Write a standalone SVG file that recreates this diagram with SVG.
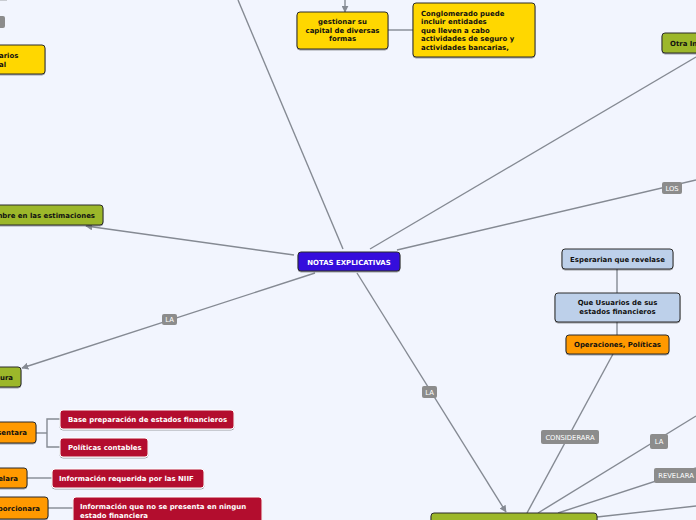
<svg xmlns="http://www.w3.org/2000/svg" width="696" height="520" viewBox="0 0 696 520">
<defs>
<marker id="arr" viewBox="0 0 10 10" refX="9" refY="5" markerWidth="7" markerHeight="7" orient="auto" markerUnits="userSpaceOnUse">
<path d="M0,0 L10,5 L0,10 z" fill="#858a93"/>
</marker>
<filter id="sh" x="-10%" y="-10%" width="120%" height="140%"><feDropShadow dx="0" dy="1" stdDeviation="0.6" flood-color="#000" flood-opacity="0.35"/></filter>
</defs>
<style>
.c{stroke:#858a93;stroke-width:1.4;fill:none}
.lbl rect{fill:#8c8c8c}
.lbl text{fill:#fff;font-family:"DejaVu Sans",Verdana,sans-serif;font-size:6.8px;text-anchor:middle}
.n{stroke:#2b2b2b;stroke-width:1;filter:url(#sh)}
.y{fill:#ffd700}
.g{fill:#9cb72c}
.o{fill:#ff9900}
.r{fill:#b3102e;stroke:#fff}
.b{fill:#bdd0ea}
.t{font-family:"DejaVu Sans",Verdana,sans-serif;font-weight:bold;font-size:6.95px;fill:#111}
.w{fill:#fff}
.m{text-anchor:middle}
.e{text-anchor:end}
</style>
<rect width="696" height="520" fill="#f2f5fe"/>

<g id="connectors">
<line class="c" x1="343" y1="249" x2="238" y2="0"/>
<line class="c" x1="345" y1="0" x2="345" y2="12" marker-end="url(#arr)"/>
<line class="c" x1="388" y1="30" x2="413" y2="30"/>
<line class="c" x1="370" y1="249" x2="696" y2="57"/>
<line class="c" x1="397" y1="250" x2="696" y2="180"/>
<line class="c" x1="294" y1="255" x2="86" y2="226" marker-end="url(#arr)"/>
<line class="c" x1="315" y1="273" x2="22" y2="368" marker-end="url(#arr)"/>
<line class="c" x1="357" y1="273" x2="506" y2="512" marker-end="url(#arr)"/>
<line class="c" x1="617" y1="269" x2="617" y2="293"/>
<line class="c" x1="617" y1="322" x2="617" y2="335"/>
<line class="c" x1="613" y1="354" x2="527" y2="513"/>
<line class="c" x1="538" y1="513" x2="696" y2="416"/>
<line class="c" x1="558" y1="513" x2="696" y2="468"/>
<line class="c" x1="597" y1="517" x2="696" y2="506"/>
<polyline class="c" points="36,433 47,433"/>
<polyline class="c" points="60,419 47,419 47,447 60,447"/>
<line class="c" x1="27" y1="478" x2="52" y2="478"/>
<line class="c" x1="48" y1="508" x2="73" y2="508"/>
<line stroke="#c9ccd2" stroke-width="2" x1="0" y1="0" x2="7" y2="0"/>
<g class="lbl"><rect x="-10" y="16" width="15" height="12" rx="2"/></g>
<g class="lbl"><rect x="662" y="182" width="20" height="12" rx="2"/><text x="672" y="190.5">LOS</text></g>
<g class="lbl"><rect x="162" y="314" width="15" height="11" rx="2"/><text x="169.5" y="322">LA</text></g>
<g class="lbl"><rect x="422" y="386" width="15" height="12" rx="2"/><text x="429.5" y="394.5">LA</text></g>
<g class="lbl"><rect x="541" y="430" width="58" height="14" rx="2"/><text x="570" y="439.5">CONSIDERARA</text></g>
<g class="lbl"><rect x="650" y="434" width="18" height="15" rx="2"/><text x="659" y="444">LA</text></g>
<g class="lbl"><rect x="654" y="468" width="46" height="15" rx="2"/><text x="676" y="478">REVELARA</text></g>
</g>

<g id="central"><rect class="n" x="298" y="252" width="102" height="19" rx="3" fill="#3510dc" stroke="#3510dc"/><text class="t w m" x="349" y="264.5">NOTAS EXPLICATIVAS</text></g>

<g id="n-usuarios"><rect class="n y" x="-80" y="45" width="125" height="29" rx="3"/><text class="t" x="-1" y="58">arios</text><text class="t" x="-1" y="67">al</text></g>

<g id="n-gestionar"><rect class="n y" x="297" y="12" width="91" height="37" rx="3"/><text class="t m" x="342.5" y="24">gestionar su</text><text class="t m" x="342.5" y="32.5">capital de diversas</text><text class="t m" x="342.5" y="41">formas</text></g>

<g id="n-conglomerado"><rect class="n y" x="413" y="3" width="122" height="54" rx="3"/><text class="t" x="421" y="15.5">Conglomerado puede</text><text class="t" x="421" y="24">incluir entidades</text><text class="t" x="421" y="32.5">que lleven a cabo</text><text class="t" x="421" y="41">actividades de seguro y</text><text class="t" x="421" y="49.5">actividades bancarias,</text></g>

<g id="n-otra"><rect class="n g" x="662" y="33" width="60" height="20" rx="3"/><text class="t" x="670" y="45.5">Otra In</text></g>

<g id="n-incertidumbre"><rect class="n g" x="-60" y="205" width="163" height="20" rx="3"/><text class="t e" x="95" y="217.5">mbre en las estimaciones</text></g>

<g id="n-estructura"><rect class="n g" x="-40" y="367" width="61" height="20" rx="3"/><text class="t e" x="13" y="380">ura</text></g>

<g id="n-presentara"><rect class="n o" x="-40" y="422" width="76" height="21" rx="3"/><text class="t e" x="27" y="435">sentara</text></g>
<g id="n-base"><rect class="n r" x="60" y="410" width="174" height="19" rx="3"/><text class="t w" x="68" y="422">Base preparación de estados financieros</text></g>
<g id="n-politicas"><rect class="n r" x="60" y="438" width="88" height="19" rx="3"/><text class="t w" x="68" y="450">Políticas contables</text></g>

<g id="n-revelara"><rect class="n o" x="-40" y="468" width="67" height="20" rx="3"/><text class="t e" x="18" y="481">elara</text></g>
<g id="n-niif"><rect class="n r" x="52" y="469" width="152" height="19" rx="3"/><text class="t w" x="59" y="481">Información requerida por las NIIF</text></g>

<g id="n-proporcionara"><rect class="n o" x="-40" y="497" width="88" height="22" rx="3"/><text class="t e" x="40" y="511">porcionara</text></g>
<g id="n-informacion"><rect class="n r" x="73" y="497" width="189" height="30" rx="3"/><text class="t w" x="80" y="508.5">Información que no se presenta en ningun</text><text class="t w" x="80" y="517.5">estado financiera</text></g>

<g id="n-esperarian"><rect class="n b" x="562" y="249" width="111" height="20" rx="3"/><text class="t m" x="617.5" y="261.5">Esperarian que revelase</text></g>
<g id="n-que-usuarios"><rect class="n b" x="555" y="293" width="125" height="29" rx="3"/><text class="t m" x="617.5" y="305">Que Usuarios de sus</text><text class="t m" x="617.5" y="313.5">estados financieros</text></g>
<g id="n-operaciones"><rect class="n o" x="566" y="335" width="103" height="19" rx="3"/><text class="t m" x="617.5" y="347">Operaciones, Políticas</text></g>

<g id="n-bottom"><rect class="n g" x="431" y="513" width="166" height="20" rx="3"/></g>
</svg>
